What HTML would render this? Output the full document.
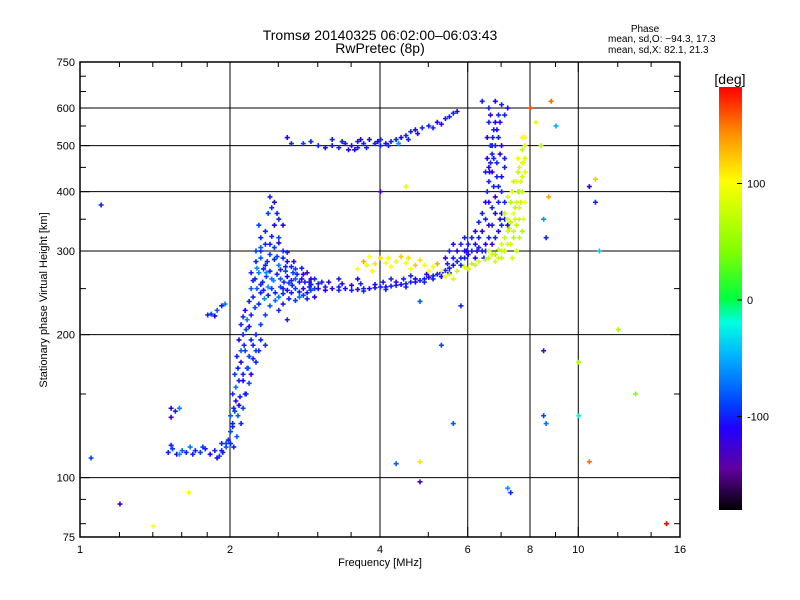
<!DOCTYPE html>
<html><head><meta charset="utf-8">
<style>
body{margin:0;background:#fff;}
svg{display:block;font-family:"Liberation Sans",sans-serif;}
</style></head>
<body>
<svg id="chart" width="800" height="600" viewBox="0 0 800 600" xmlns="http://www.w3.org/2000/svg">
<defs>
<linearGradient id="cbgrad" x1="0" y1="1" x2="0" y2="0">
<stop offset="0" stop-color="#000000"/>
<stop offset="0.097" stop-color="#6000a0"/>
<stop offset="0.194" stop-color="#2000ff"/>
<stop offset="0.25" stop-color="#0040ff"/>
<stop offset="0.361" stop-color="#00b0ff"/>
<stop offset="0.444" stop-color="#00ffe0"/>
<stop offset="0.5" stop-color="#00ff40"/>
<stop offset="0.611" stop-color="#80ff00"/>
<stop offset="0.778" stop-color="#ffff00"/>
<stop offset="0.889" stop-color="#ff9000"/>
<stop offset="1" stop-color="#ff0000"/>
</linearGradient>
</defs>
<text x="380" y="40" font-size="14" text-anchor="middle">Tromsø 20140325 06:02:00–06:03:43</text>
<text x="380" y="53" font-size="14" text-anchor="middle">RwPretec (8p)</text>
<text x="645" y="32" font-size="10" text-anchor="middle">Phase</text>
<text x="608" y="42" font-size="10">mean, sd,O: −94.3, 17.3</text>
<text x="608" y="53" font-size="10">mean, sd,X:  82.1, 21.3</text>
<g id="grid"></g>
<g id="points"></g>
<rect x="80" y="62" width="600" height="475" fill="none" stroke="#000" stroke-width="1.5"/>
<g id="axes"></g>
<text x="380" y="566" font-size="11" text-anchor="middle">Frequency [MHz]</text>
<text transform="translate(47,300) rotate(-90)" font-size="11" text-anchor="middle">Stationary phase Virtual Height [km]</text>
<rect x="719" y="87" width="23" height="423" fill="url(#cbgrad)"/>
<text x="730" y="84" font-size="14" text-anchor="middle">[deg]</text>
<g id="cbticks"></g>
</svg>
<script>
const xTicks=[1,2,4,6,8,10,16];
const xGrid=[2,4,6,8,10];
const xMinor=[1.2,1.4,1.6,1.8,2.5,3,3.5,5,7,9,12,14];
const yTicks=[75,100,200,300,400,500,600,750];
const yGrid=[100,200,300,400,500,600];
const yMinor=[80,90,150,250,350,450,550,650,700];
const cbTicks=[100,0,-100];
const lowE=[[1.50,113,-100],[1.53,115,-90],[1.56,112,-110],[1.60,114,-80],[1.63,113,-100],[1.66,116,-70],[1.70,114,-100],[1.74,113,-90],[1.78,115,-100],[1.82,112,-110],[1.86,114,-100],[1.90,111,-90],[1.93,113,-100],[1.96,116,-80],[1.52,117,-100],[1.58,112,-60],[1.68,112,-100],[1.76,116,-90],[1.88,110,-110],[1.92,118,-100],[1.52,140,-120],[1.55,138,-100],[1.52,134,-130],[1.58,140,-70],[1.80,220,-100],[1.83,221,-90],[1.86,219,-110],[1.88,225,-80],[1.92,230,-100],[1.95,232,-70]];
const rise=[[1.98,120,-100],[2.0,125,-90],[2.02,130,-100],[2.0,135,-80],[2.03,140,-100],[2.05,145,-110],[2.02,150,-100],[2.05,155,-70],[2.08,160,-100],[2.04,165,-90],[2.07,170,-100],[2.1,175,-120],[2.06,180,-100],[2.1,185,-80],[2.13,190,-100],[2.08,195,-110],[2.12,200,-100],[2.15,205,-90],[2.1,210,-100],[2.16,215,-70],[2.2,220,-100],[2.14,225,-110],[2.22,190,-100],[2.18,180,-90],[2.25,175,-100],[2.2,165,-110],[2.15,150,-100],[2.12,140,-90],[2.1,130,-100],[2.06,122,-80],[2.0,118,-100],[2.25,200,-100],[2.3,210,-90],[2.28,185,-100],[2.12,160,-110],[2.16,170,-100],[2.04,138,-90],[2.09,148,-100]];
const f1Blob=[[2.22,240,-100],[2.26,250,-80],[2.3,245,-100],[2.34,238,-60],[2.38,242,-100],[2.42,250,-90],[2.46,245,-100],[2.5,240,-70],[2.55,244,-100],[2.6,248,-110],[2.65,245,-100],[2.7,250,-90],[2.75,246,-100],[2.8,250,-120],[2.85,245,-100],[2.9,248,-90],[2.24,262,-100],[2.28,270,-70],[2.32,258,-100],[2.36,265,-90],[2.4,272,-100],[2.44,260,-60],[2.48,268,-100],[2.52,262,-80],[2.56,258,-100],[2.6,265,-110],[2.65,260,-100],[2.7,262,-80],[2.75,258,-100],[2.8,268,-120],[2.85,270,-130],[2.9,262,-110],[2.25,285,-100],[2.3,290,-80],[2.35,280,-100],[2.4,295,-90],[2.45,288,-100],[2.5,280,-70],[2.55,290,-100],[2.6,285,-110],[2.65,278,-100],[2.7,275,-90],[2.3,300,-100],[2.45,305,-90],[2.6,298,-100],[2.28,232,-100],[2.4,230,-80],[2.55,232,-100],[2.7,236,-90],[2.85,238,-100],[2.95,240,-110],[2.5,225,-100],[2.35,220,-90],[2.6,215,-100],[2.75,240,-70],[2.9,255,-100],[2.38,252,-60],[2.52,252,-90],[2.66,254,-100],[2.33,275,-100],[2.58,272,-90]];
const f1Extra=[[2.3,255,-100],[2.42,262,-70],[2.55,250,-100],[2.62,257,-90],[2.72,268,-100],[2.78,262,-120],[2.88,252,-100],[2.95,250,-90],[3.0,256,-100],[2.26,276,-60],[2.37,285,-100],[2.48,292,-90],[2.58,278,-100],[2.68,285,-120],[2.78,276,-100],[2.88,258,-130],[2.33,248,-100],[2.46,236,-70],[2.62,238,-100],[2.8,242,-90],[2.22,260,-100],[2.25,300,-90],[2.35,310,-100],[2.5,312,-110],[2.42,322,-100],[2.28,340,-90],[2.48,360,-100],[2.36,270,-60],[2.52,274,-100],[2.67,270,-90],[2.82,258,-100],[2.2,270,-100],[2.2,250,-80],[2.18,235,-100],[2.24,228,-90],[2.12,218,-100],[2.18,208,-110],[2.2,195,-100],[2.14,185,-90],[2.22,178,-100],[2.17,170,-80],[2.12,165,-100],[2.18,158,-90],[2.14,150,-100],[2.08,142,-110],[2.02,128,-100],[1.96,118,-90],[2.03,116,-100],[1.92,114,-100],[2.07,135,-80],[2.3,195,-100],[2.25,185,-90],[2.35,190,-100]];
const spike=[[2.4,390,-100],[2.45,380,-120],[2.42,370,-100],[2.38,360,-90],[2.5,350,-100],[2.45,340,-110],[2.35,330,-100],[2.5,320,-90],[2.4,310,-100],[2.3,305,-80],[2.55,300,-100],[2.3,320,-100],[2.55,340,-110]];
const fTrace=[[2.9,255,-100],[3.0,250,-110],[3.1,252,-100],[3.2,250,-120],[3.3,248,-100],[3.4,250,-110],[3.5,248,-100],[3.6,249,-120],[3.7,250,-100],[3.8,250,-110],[3.9,251,-100],[4.0,252,-100],[4.1,252,-110],[4.2,253,-100],[4.3,254,-100],[4.4,255,-110],[4.5,256,-100],[4.6,258,-100],[4.7,258,-110],[4.8,260,-100],[4.9,262,-100],[5.0,264,-110],[5.1,266,-100],[5.2,268,-100],[5.3,270,-110],[5.4,273,-100],[5.5,276,-100],[5.6,280,-110],[5.7,285,-100],[3.05,258,-100],[3.35,256,-110],[3.65,256,-100],[2.95,262,-100],[3.15,258,-120],[4.05,258,-100],[4.45,262,-100],[4.95,268,-110],[5.45,282,-100]];
const fTraceExtra=[[3.1,248,-110],[3.3,252,-100],[3.5,254,-120],[3.7,247,-100],[3.9,255,-110],[4.1,249,-100],[4.3,258,-120],[4.5,252,-100],[4.7,262,-110],[4.9,258,-100],[5.1,262,-100],[5.3,265,-110],[5.5,270,-100],[5.6,290,-100],[5.7,300,-110],[5.8,310,-100],[5.9,320,-100],[5.6,310,-110],[5.5,300,-100],[5.4,290,-120],[5.8,280,-100],[5.95,300,-110],[3.3,262,-100],[3.6,262,-110],[4.2,262,-100],[4.6,266,-100]];
const xTrace=[[3.6,275,100],[3.75,280,90],[3.9,282,110],[4.1,283,100],[4.3,285,90],[4.5,283,100],[4.7,280,120],[4.9,280,100],[5.1,278,90],[5.3,272,100],[5.5,268,80],[5.7,272,70],[5.9,278,80],[6.1,282,70],[6.3,285,80],[6.5,288,70],[6.7,295,80],[6.9,302,70],[7.0,310,80],[7.1,320,70],[7.2,330,80],[7.3,345,70],[7.4,360,90],[7.5,380,80],[7.6,400,70],[7.7,430,80],[7.75,460,90],[7.8,500,80],[7.2,350,80],[7.4,330,70],[7.6,350,80],[7.0,290,70],[6.8,285,80],[7.5,420,90],[7.65,380,70],[7.3,310,80],[7.55,470,90],[6.0,275,80],[6.2,280,70],[6.6,300,80],[7.35,400,80],[7.7,520,100]];
const xTraceExtra=[[3.7,285,130],[3.85,272,100],[4.0,290,110],[4.2,278,100],[4.4,292,120],[4.6,275,100],[4.8,287,110],[5.0,272,100],[5.2,282,130],[5.4,265,90],[5.6,262,80],[4.15,290,100],[3.8,292,100],[4.55,290,110]];
const xRiseExtra=[[6.6,290,70],[6.8,295,60],[7.0,300,70],[7.2,310,80],[7.4,320,60],[7.5,340,70],[7.6,370,80],[7.7,400,70],[7.8,440,90],[7.8,470,80],[7.7,490,70],[7.6,450,80],[7.4,420,70],[7.3,380,60],[7.1,360,70],[7.2,390,80],[7.45,370,70],[7.55,400,60],[7.65,420,80],[7.75,350,90],[7.8,380,100],[7.5,300,70],[7.35,290,80],[7.6,320,70],[7.7,330,60],[6.9,290,80],[7.1,300,70],[7.25,335,60],[7.45,350,80],[7.55,440,70],[7.7,460,90],[7.8,520,100]];
const riseF=[[5.8,290,-100],[5.9,300,-110],[6.0,310,-100],[6.1,320,-100],[6.2,330,-110],[6.3,345,-100],[6.4,360,-100],[6.5,380,-110],[6.55,400,-100],[6.6,420,-100],[6.62,440,-110],[6.65,460,-100],[6.7,480,-100],[6.7,500,-110],[6.72,520,-100],[6.75,540,-100],[6.8,560,-110],[6.9,580,-100],[6.6,600,-100],[6.8,620,-110],[7.0,610,-100],[6.4,620,-100],[6.7,340,-100],[6.8,360,-110],[6.9,380,-100],[7.0,400,-100],[6.95,350,-110],[6.5,300,-100],[6.3,305,-100],[6.2,290,-110],[6.85,430,-100],[6.75,470,-100],[6.6,380,-110],[7.1,450,-100]];
const riseExtra=[[6.4,300,-100],[6.5,310,-110],[6.6,320,-100],[6.7,310,-120],[6.8,320,-100],[6.9,330,-110],[7.0,340,-100],[6.6,340,-120],[6.5,350,-100],[6.4,330,-110],[6.7,370,-100],[6.8,390,-120],[6.9,410,-100],[7.0,430,-110],[7.1,470,-100],[6.6,450,-120],[6.65,500,-100],[6.55,520,-110],[6.6,560,-100],[6.65,580,-120],[6.9,520,-100],[7.0,500,-110],[6.85,460,-100],[6.95,480,-120],[7.1,380,-100],[7.0,360,-110],[6.75,410,-100],[6.7,440,-120],[6.8,500,-100],[6.85,540,-110],[6.5,440,-100],[6.55,470,-120],[7.1,350,-100],[7.2,340,-110],[6.3,320,-100],[6.2,310,-120],[6.1,300,-100],[6.0,295,-110],[5.9,290,-100],[6.25,300,-120],[6.45,290,-100],[7.2,600,-110],[7.1,580,-100],[6.95,560,-120]];
const upper=[[2.65,505,-100],[2.8,505,-90],[3.0,500,-100],[3.2,500,-110],[3.3,495,-100],[3.4,505,-100],[3.5,500,-110],[3.6,510,-100],[3.7,505,-100],[3.8,515,-110],[3.9,505,-100],[4.0,500,-100],[4.1,505,-110],[4.2,510,-100],[4.3,515,-100],[4.4,520,-110],[4.5,525,-100],[4.6,535,-100],[4.7,540,-110],[4.85,545,-100],[5.0,550,-100],[5.2,560,-110],[5.4,570,-100],[5.6,585,-100],[3.45,490,-110],[3.6,495,-100],[4.0,515,-100]];
const upperExtra=[[2.9,510,-100],[3.1,495,-110],[3.35,510,-100],[3.55,490,-120],[3.75,495,-100],[3.95,510,-110],[4.15,500,-100],[4.35,505,-60],[4.55,515,-100],[4.75,530,-110],[5.1,545,-100],[5.3,555,-110],[5.5,575,-100],[5.7,590,-110],[3.2,515,-100],[3.65,515,-120]];
const outliers=[[1.05,110,-90],[1.1,375,-100],[1.2,88,-130],[1.4,79,100],[1.65,93,100],[2.6,520,-110],[4.0,400,-130],[4.5,410,90],[4.8,98,-130],[4.8,108,110],[4.3,107,-80],[5.3,190,-90],[5.6,130,-80],[7.2,95,-60],[7.3,93,-100],[8.5,185,-130],[8.5,135,-90],[8.6,130,-70],[8.7,390,130],[9.0,550,-50],[8.8,620,150],[10,175,60],[10.5,410,-120],[10.8,380,-100],[11,300,-40],[10.5,108,150],[10.0,135,-20],[12,205,60],[13,150,40],[15,80,180],[10.8,425,120],[8.5,350,-60],[8.6,320,-100],[5.8,230,-100],[4.8,235,-80],[8.0,600,160],[8.2,560,90],[8.4,500,60]];
const clusters=[lowE,rise,f1Blob,f1Extra,spike,fTrace,fTraceExtra,upper,upperExtra,riseF,riseExtra,xTrace,xTraceExtra,xRiseExtra,outliers];

const NS="http://www.w3.org/2000/svg";
function xs(f){return 80+150*Math.log2(f);}
function ys(h){return 537-475*Math.log10(h/75);}
function cy(p){return 300-p*1.165;}
const stops=[[-180,[0,0,0]],[-145,[96,0,160]],[-110,[32,0,255]],[-90,[0,64,255]],[-50,[0,176,255]],[-20,[0,255,224]],[0,[0,255,64]],[40,[128,255,0]],[100,[255,255,0]],[140,[255,144,0]],[180,[255,0,0]]];
function color(p){
  if(p<=stops[0][0])return "rgb(0,0,0)";
  for(let i=1;i<stops.length;i++){
    if(p<=stops[i][0]){const a=stops[i-1],b=stops[i];const t=(p-a[0])/(b[0]-a[0]);
      const c=a[1].map((v,k)=>Math.round(v+(b[1][k]-v)*t));return "rgb("+c.join(",")+")";}
  }
  return "rgb(255,0,0)";
}
function mk(tag,attrs){const e=document.createElementNS(NS,tag);for(const k in attrs)e.setAttribute(k,attrs[k]);return e;}
const grid=document.getElementById("grid"),axes=document.getElementById("axes"),pts=document.getElementById("points"),cbt=document.getElementById("cbticks");
xGrid.forEach(v=>{const l=mk("line",{x1:xs(v),x2:xs(v),y1:62,y2:537,stroke:"#000","stroke-width":1});

grid.appendChild(l);});
yGrid.forEach(v=>{const l=mk("line",{x1:80,x2:680,y1:ys(v),y2:ys(v),stroke:"#000","stroke-width":1});

grid.appendChild(l);});
xTicks.forEach(v=>{const t=mk("text",{x:xs(v),y:553,"font-size":11,"text-anchor":"middle"});t.textContent=v;

axes.appendChild(t);
[[537,527],[62,72]].forEach(y=>{const l=mk("line",{x1:xs(v),x2:xs(v),y1:y[0],y2:y[1],stroke:"#000"});

axes.appendChild(l);});});
xMinor.forEach(v=>{[[537,532],[62,67]].forEach(y=>{const l=mk("line",{x1:xs(v),x2:xs(v),y1:y[0],y2:y[1],stroke:"#000"});

axes.appendChild(l);});});
yTicks.forEach(v=>{const t=mk("text",{x:75,y:ys(v)+4,"font-size":11,"text-anchor":"end"});t.textContent=v;

axes.appendChild(t);
[[80,90],[680,670]].forEach(x=>{const l=mk("line",{x1:x[0],x2:x[1],y1:ys(v),y2:ys(v),stroke:"#000"});

axes.appendChild(l);});});
yMinor.forEach(v=>{[[80,86],[680,674]].forEach(x=>{const l=mk("line",{x1:x[0],x2:x[1],y1:ys(v),y2:ys(v),stroke:"#000"});

axes.appendChild(l);});});
cbTicks.forEach(v=>{const t=mk("text",{x:747,y:cy(v)+4,"font-size":11});t.textContent=v;

cbt.appendChild(t);
const l=mk("line",{x1:737,x2:742,y1:cy(v),y2:cy(v),stroke:"#000"});

cbt.appendChild(l);});
clusters.forEach(cl=>cl.forEach(d=>{
  const x=xs(d[0]),y=ys(d[1]),c=color(d[2]);
  const p=mk("path",{d:"M"+(x-2)+" "+y+"h5M"+(x+0.5)+" "+(y-2.5)+"v5",stroke:c,"stroke-width":1.6});
  
  
  pts.appendChild(p);
}));
</script>
</body></html>
